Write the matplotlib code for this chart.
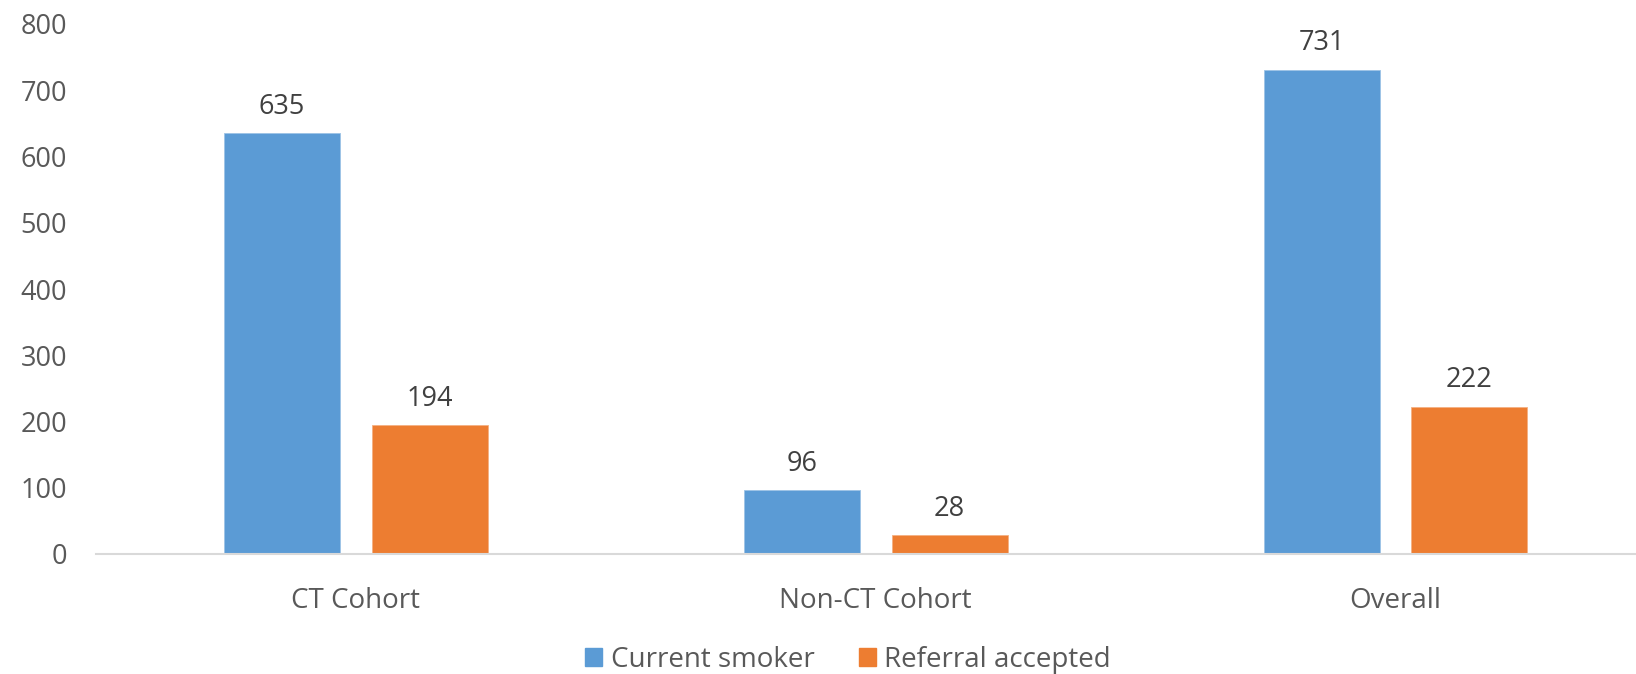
import numpy as np
import matplotlib.pyplot as plt
from matplotlib.patches import Patch

plt.rcParams['font.family'] = ['Open Sans', 'DejaVu Sans']

categories = ['CT Cohort', 'Non-CT Cohort', 'Overall']
current_smoker = [635, 96, 731]
referral_accepted = [194, 28, 222]

blue = '#5B9BD5'
orange = '#ED7D31'

fig = plt.figure(figsize=(16.36, 6.74), dpi=100)
ax = fig.add_axes([96 / 1636, 120 / 674, 1 - 96 / 1636, 530 / 674])

x = np.arange(len(categories))
w = 0.223
off = 0.142
b1 = ax.bar(x - off, current_smoker, w, color=blue, edgecolor='#9DC3E6', linewidth=0.6)
b2 = ax.bar(x + off, referral_accepted, w, color=orange, edgecolor='#F4B183', linewidth=0.6)

for bars in (b1, b2):
    ax.bar_label(bars, padding=9, fontsize=19.5, color='#404040')

ax.set_ylim(0, 800)
ax.set_xlim(-0.5, 2.4625)
ax.set_yticks(range(0, 801, 100))
ax.set_xticks(x)
ax.set_xticklabels(categories)
ax.tick_params(axis='y', length=0, pad=21, labelsize=19.5, labelcolor='#595959')
ax.tick_params(axis='x', length=0, pad=24, labelsize=20, labelcolor='#595959')

for s in ('top', 'right', 'left'):
    ax.spines[s].set_visible(False)
ax.spines['bottom'].set_color('#D9D9D9')
ax.spines['bottom'].set_linewidth(1.5)

handles = [Patch(color=blue, label='Current smoker'),
           Patch(color=orange, label='Referral accepted')]
fig.legend(handles=handles, loc='center', bbox_to_anchor=(848 / 1636, 1 - 660 / 674),
           ncol=2, frameon=False, fontsize=20, labelcolor='#595959',
           handlelength=0.62, handleheight=0.62, handletextpad=0.3, columnspacing=1.6)

fig.savefig('out.png', dpi=100)
